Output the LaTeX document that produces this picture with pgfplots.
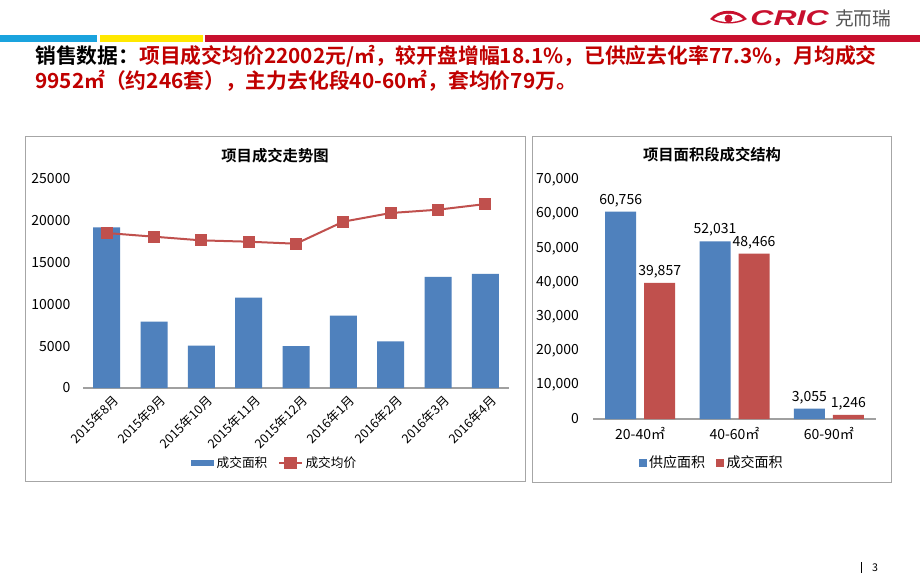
\documentclass[border=0pt]{standalone}
\usepackage{pgfplots}
\pgfplotsset{compat=1.18}
\usepackage{fontspec}
\setmainfont{Noto Sans CJK SC}[BoldFont={* Bold}]
\newfontfamily\logofont{Liberation Sans}
\definecolor{cblue}{HTML}{4F81BD}
\definecolor{cred}{HTML}{C0504D}
\definecolor{tred}{HTML}{C00000}
\definecolor{sblue}{HTML}{1AA3DE}
\definecolor{syellow}{HTML}{FFE800}
\definecolor{sred}{HTML}{C8102E}
\definecolor{framegray}{HTML}{A6A6A6}
\definecolor{axgray}{HTML}{A0A0A0}
\definecolor{logogray}{HTML}{555555}
\begin{document}
\begin{tikzpicture}
\begin{scope}[x=0.75pt,y=-0.75pt]
\path[fill=white] (0,0) rectangle (920,575);
% stripe
\fill[sblue] (0,35) rectangle (97,42);
\fill[syellow] (100,35) rectangle (203,42);
\fill[sred] (205,35) rectangle (920,42);
% logo
\fill[sred] (710,19) .. controls (719,8) and (738,8) .. (747,19) .. controls (738,25) and (719,25) .. (710,19) -- cycle;
\fill[white] (714,19) .. controls (721,12) and (736,12) .. (743,19) .. controls (736,23) and (721,23) .. (714,19) -- cycle;
\fill[sred] (728.5,18.5) circle (4);
\node[anchor=west, text=sred, font=\logofont\bfseries\itshape\fontsize{16}{16}\selectfont, xscale=1.5, inner sep=0] at (750,18.5) {CRIC};
\node[anchor=west, text=logogray, font=\fontsize{14}{14}\selectfont, inner sep=0] at (835,18.5) {克而瑞};
% header
\node[anchor=west, align=left, font=\fontsize{15.6}{18.75}\selectfont\bfseries, inner sep=0] at (35,68.5)
 {\textcolor{black}{销售数据：}\textcolor{tred}{项目成交均价22002元/㎡，较开盘增幅18.1\%，已供应去化率77.3\%，月均成交}\\
  \textcolor{tred}{9952㎡（约246套），主力去化段40-60㎡，套均价79万。}};
% frames
\draw[framegray, line width=0.75pt] (25,136) rectangle (525,481);
\draw[framegray, line width=0.75pt] (532,136) rectangle (891,482);
% titles
\node[font=\fontsize{11.5}{13}\selectfont\bfseries] at (275,156) {项目成交走势图};
\node[font=\fontsize{11.5}{13}\selectfont\bfseries] at (712,155) {项目面积段成交结构};
% page number
\draw[black, line width=0.6pt] (861,562) -- (861,573);
\node[font=\fontsize{8}{9}\selectfont] at (875,567.5) {3};
\end{scope}

\begin{axis}[
  at={(83*0.75pt,-388*0.75pt)}, anchor=south west,
  scale only axis, width=319.5pt, height=156.75pt,
  xmin=-0.5, xmax=8.5, ymin=0, ymax=25000,
  ytick={0,5000,...,25000},
  xtick={0,...,8},
  xticklabels={2015年8月,2015年9月,2015年10月,2015年11月,2015年12月,2016年1月,2016年2月,2016年3月,2016年4月},
  axis x line*=bottom, axis y line*=left,
  y axis line style={draw=none},
  x axis line style={axgray, line width=1.1pt},
  major tick length=0pt,
  /pgf/number format/assume math mode=true,
  /pgf/number format/1000 sep={},
  scaled y ticks=false,
  yticklabel style={font=\fontsize{10.5}{12}\selectfont, xshift=-6pt},
  xticklabel style={font=\fontsize{9.5}{11}\selectfont, rotate=45, anchor=east, xshift=3pt, yshift=-10pt},
  legend style={at={(0.451,-0.359)}, anchor=center, draw=none, fill=none, legend columns=2, font=\fontsize{9.5}{11}\selectfont, /tikz/every even column/.append style={column sep=6pt}},
  clip=false,
]
\addplot[ybar, bar width=20.25pt, fill=cblue, draw=none, legend image code/.code={\fill[cblue] (0pt,-2.5pt) rectangle (17pt,2.5pt);}] coordinates {
(0,19200) (1,7950) (2,5060) (3,10800) (4,5000) (5,8650) (6,5580) (7,13280) (8,13640)};
\addlegendentry{成交面积}
\addplot[cred, line width=1.5pt, mark=square*, mark size=3.8pt, mark options={fill=cred}] coordinates {
(0,18540) (1,18100) (2,17660) (3,17500) (4,17260) (5,19900) (6,20930) (7,21330) (8,22002)};
\addlegendentry{成交均价}
\end{axis}

\begin{axis}[
  at={(593*0.75pt,-419*0.75pt)}, anchor=south west,
  scale only axis, width=212.25pt, height=179.25pt,
  xmin=-0.5, xmax=2.5, ymin=0, ymax=70000,
  ybar=6pt, bar width=23.25pt,
  ytick={0,10000,...,70000},
  xtick={0,1,2}, xticklabels={20-40㎡,40-60㎡,60-90㎡},
  axis x line*=bottom, axis y line*=left,
  y axis line style={draw=none},
  x axis line style={axgray, line width=1.1pt},
  major tick length=0pt,
  /pgf/number format/assume math mode=true,
  /pgf/number format/1000 sep={,},
  scaled y ticks=false,
  yticklabel style={font=\fontsize{10.5}{12}\selectfont, xshift=-7pt},
  xticklabel style={font=\fontsize{10.5}{12}\selectfont, yshift=-3pt},
  nodes near coords,
  nodes near coords style={font=\fontsize{10.5}{12}\selectfont, black, /pgf/number format/fixed, /pgf/number format/precision=0},
  legend style={at={(0.42,-0.184)}, anchor=center, draw=none, fill=none, legend columns=2, font=\fontsize{10.5}{12}\selectfont, /tikz/every even column/.append style={column sep=6pt}},
  clip=false,
]
\addplot[fill=cblue, draw=none, legend image code/.code={\fill[cblue] (0pt,-3pt) rectangle (6pt,3pt);}] coordinates {(0,60756) (1,52031) (2,3055)};
\addlegendentry{供应面积}
\addplot[fill=cred, draw=none, legend image code/.code={\fill[cred] (0pt,-3pt) rectangle (6pt,3pt);}] coordinates {(0,39857) (1,48466) (2,1246)};
\addlegendentry{成交面积}
\end{axis}
\end{tikzpicture}
\end{document}
